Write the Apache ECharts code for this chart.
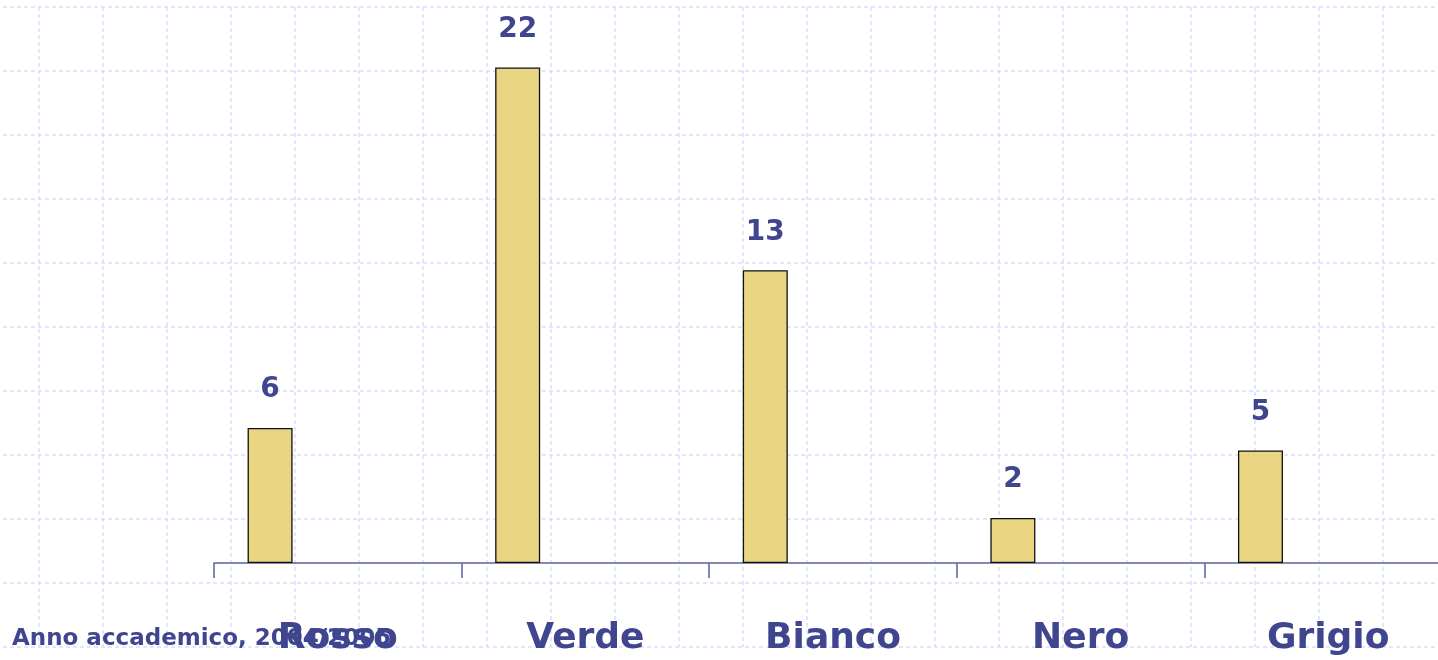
<!DOCTYPE html>
<html>
<head>
<meta charset="utf-8">
<script src="https://cdn.jsdelivr.net/npm/echarts@6/dist/echarts.min.js"></script>
<style>
  html, body { margin: 0; padding: 0; background: #fff; }
  #chart { width: 1438px; height: 660px; }
</style>
</head>
<body>
<div id="chart"></div>
<script>
const categories = ["Rosso", "Verde", "Bianco", "Nero", "Grigio"];
const counts = [6, 22, 13, 2, 5];
const footer = "Anno accademico, 2004/2005";

// paper grid behind the chart (just a decoration, 64px squares)
const paperCols = 23;
const paperRows = 10;

const ink = "#3f468f";
const font = "'DejaVu Sans', sans-serif";

const chart = echarts.init(document.getElementById("chart"));

const paperLine = {
  show: true,
  lineStyle: { color: "#d6defa", width: 1.5, type: [4, 3] },
};

chart.setOption({
  backgroundColor: "#fff",
  animation: false,
  title: {
    text: footer,
    left: 12,
    bottom: 9,
    padding: 0,
    textStyle: { color: ink, fontFamily: font, fontWeight: "bold", fontSize: 23 },
  },
  grid: [
    { left: 214, width: 1238, top: 0, bottom: 97, outerBoundsMode: "none" },
    { left: -25, width: 64 * paperCols, top: 7, bottom: 13, z: 0, outerBoundsMode: "none" },
  ],
  xAxis: [
    {
      type: "category",
      gridIndex: 0,
      data: categories,
      axisLine: { lineStyle: { color: "#5c619f", width: 1.5 } },
      axisTick: { show: true, length: 15, lineStyle: { color: "#5c619f", width: 1.5 } },
      axisLabel: {
        color: ink,
        fontFamily: font,
        fontWeight: "bold",
        fontSize: 36,
        margin: 58,
      },
    },
    {
      type: "value",
      gridIndex: 1,
      min: 0,
      max: paperCols,
      interval: 1,
      axisLine: { show: false },
      axisTick: { show: false },
      axisLabel: { show: false },
      splitLine: paperLine,
      z: 0,
    },
  ],
  yAxis: [
    { type: "value", gridIndex: 0, min: 0, max: 25, show: false },
    {
      type: "value",
      gridIndex: 1,
      min: 0,
      max: paperRows,
      interval: 1,
      axisLine: { show: false },
      axisTick: { show: false },
      axisLabel: { show: false },
      splitLine: paperLine,
      z: 0,
    },
  ],
  series: [
    {
      name: "Colori",
      type: "bar",
      xAxisIndex: 0,
      yAxisIndex: 0,
      data: counts,
      barWidth: 45,
      barGap: "201%",
      itemStyle: { color: "#ead682", borderColor: "#111", borderWidth: 1.3 },
      label: {
        show: true,
        position: "top",
        distance: 24,
        color: ink,
        fontFamily: font,
        fontWeight: "bold",
        fontSize: 28,
      },
    },
    {
      // empty second series, keeps the bars off-centre like the original
      name: "vuoto",
      type: "bar",
      xAxisIndex: 0,
      yAxisIndex: 0,
      data: categories.map(() => null),
      barWidth: 45,
      silent: true,
    },
  ],
});
</script>
</body>
</html>
